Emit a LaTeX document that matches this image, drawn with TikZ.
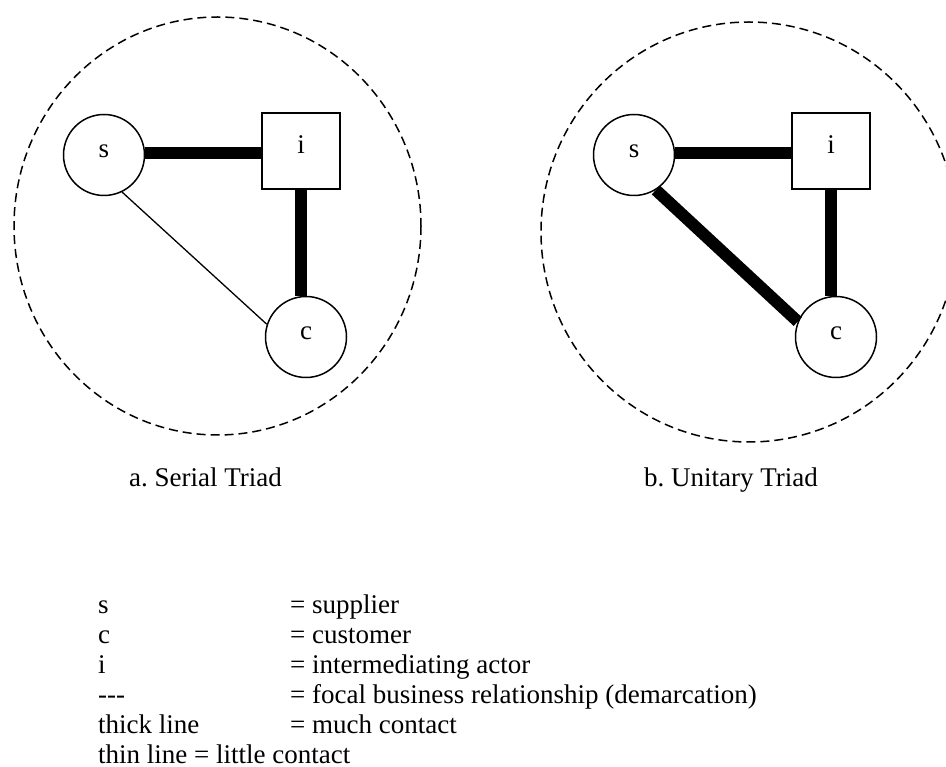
\documentclass[tikz,border=0pt]{standalone}
\usepackage{fontspec}
\setmainfont{Liberation Serif}
\frenchspacing
\begin{document}
\begin{tikzpicture}[x=1pt,y=-1pt,
  basefont/.style={font=\fontsize{27}{30}\selectfont},
  actor/.style={circle,draw,line width=1.5pt,minimum size=81pt,inner sep=0pt,basefont,text height=12pt,text depth=6pt},
  mediator/.style={rectangle,draw,line width=1.5pt,minimum width=78pt,minimum height=76pt,inner sep=0pt,basefont,text height=12pt,text depth=6pt},
  thickrel/.style={line width=12pt},
  thinrel/.style={line width=1.3pt},
  focal/.style={line width=1.5pt,dash pattern=on 9pt off 5pt},
  txt/.style={anchor=base west,inner sep=0pt,basefont}]
\useasboundingbox (0,0) rectangle (946,767);
\clip (0,0) rectangle (946,767);

% demarcation ellipses
\draw[focal] (217.5,226) ellipse [x radius=203.5, y radius=209];
\draw[focal] (749,232) ellipse [x radius=208, y radius=210];

% panel a
\node[actor] (s1) at (104,155) {s};
\node[mediator] (i1) at (301,151) {i};
\node[actor] (c1) at (306,337) {c};
\draw[thickrel] (s1.3) -- (s1.3 -| i1.west);
\draw[thickrel] (i1.south) -- (i1.south |- c1.north);
\draw[thinrel] (s1.-64) -- (c1.162);

% panel b
\node[actor] (s2) at (634,155) {s};
\node[mediator] (i2) at (831,151) {i};
\node[actor] (c2) at (836,337) {c};
\draw[thickrel] (s2.3) -- (s2.3 -| i2.west);
\draw[thickrel] (i2.south) -- (i2.south |- c2.north);
\draw[thickrel] (s2.-58) -- (c2.158);

% captions
\node[txt] (capa) at (129,486) {a. Serial Triad};
\node[txt] (capb) at (644,486) {b. Unitary Triad};

% legend
\node[txt] (l1a) at (98,613) {s};
\node[txt] (l1b) at (290,613) {= supplier};
\node[txt] (l2a) at (98,643) {c};
\node[txt] (l2b) at (290,643) {= customer};
\node[txt] (l3a) at (98,673) {i};
\node[txt] (l3b) at (290,673) {= intermediating actor};
\node[txt] (l4a) at (98,703) {-\kern0pt-\kern0pt-};
\node[txt] (l4b) at (290,703) {= focal business relationship (demarcation)};
\node[txt] (l5a) at (98,733) {thick line};
\node[txt] (l5b) at (290,733) {= much contact};
\node[txt] (l6a) at (98,763) {thin line = little contact};
\end{tikzpicture}
\end{document}
